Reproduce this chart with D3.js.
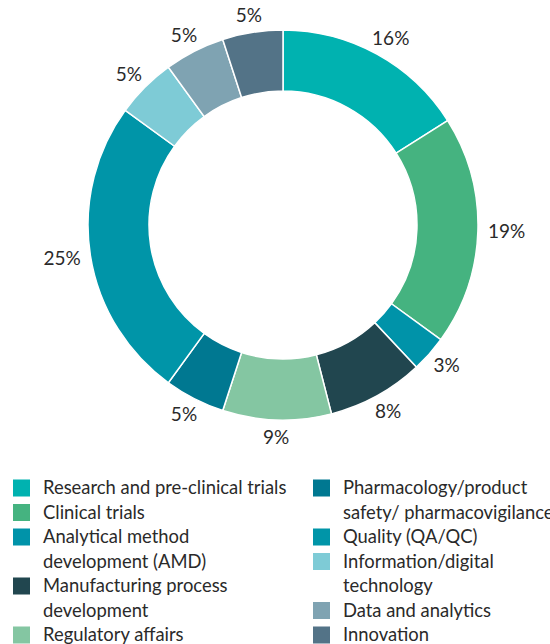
<!DOCTYPE html>
<html>
<head>
<meta charset="utf-8">
<script src="https://cdn.jsdelivr.net/npm/d3@7"></script>
<style>
  body { margin: 0; background: #fff; }
  svg { display: block; }
  text { font-family: Lato, "Noto Sans", sans-serif; fill: #2a2a2a; }
</style>
</head>
<body>
<div id="chart"></div>
<script>
// Chart data
var categories = [
  "Research and pre-clinical trials",
  "Clinical trials",
  "Analytical method development (AMD)",
  "Manufacturing process development",
  "Regulatory affairs",
  "Pharmacology/product safety/ pharmacovigilance",
  "Quality (QA/QC)",
  "Information/digital technology",
  "Data and analytics",
  "Innovation"
];
var shares = [16, 19, 3, 8, 9, 5, 25, 5, 5, 5];

// legend text as it wraps in the picture
var legendLines = [
  ["Research and pre-clinical trials"],
  ["Clinical trials"],
  ["Analytical method", "development (AMD)"],
  ["Manufacturing process", "development"],
  ["Regulatory affairs"],
  ["Pharmacology/product", "safety/ pharmacovigilance"],
  ["Quality (QA/QC)"],
  ["Information/digital", "technology"],
  ["Data and analytics"],
  ["Innovation"]
];

var colors = ["#00b2b0", "#45b380", "#0093a9", "#21464f", "#84c6a2",
              "#007891", "#0095a8", "#7ecbd6", "#7fa3b2", "#537387"];

var svgWidth = 550;
var svgHeight = 644;

var cx = 283, cy = 225;
var outerR = 195, innerR = 134;
var labelGap = 10;

var svg = d3.select("#chart")
  .append("svg")
  .attr("width", svgWidth)
  .attr("height", svgHeight);

var color = d3.scaleOrdinal().domain(categories).range(colors);

var pie = d3.pie().sort(null).value(d => d.value);
var data = categories.map((c, i) => ({ name: c, value: shares[i] }));
var arcs = pie(data);

var arc = d3.arc().innerRadius(innerR).outerRadius(outerR);

var donut = svg.append("g")
  .attr("transform", `translate(${cx}, ${cy})`);

donut.selectAll("path")
  .data(arcs)
  .enter()
  .append("path")
  .attr("d", arc)
  .attr("fill", d => color(d.data.name))
  .attr("stroke", "#fff")
  .attr("stroke-width", 1.5);

// percentage labels just outside the ring; the label box is pushed
// outward so its nearest edge sits labelGap px off the ring
var pctLabels = donut.selectAll("text.pct")
  .data(arcs)
  .enter()
  .append("text")
  .attr("class", "pct")
  .attr("text-anchor", "middle")
  .attr("dy", "0.35em")
  .attr("font-size", 19)
  .text(d => d.data.value + "%");

pctLabels.each(function(d) {
  var a = (d.startAngle + d.endAngle) / 2;
  var sx = Math.sin(a), sy = -Math.cos(a);
  var w = this.getComputedTextLength();
  var h = 15;
  var r = outerR + labelGap;
  d3.select(this)
    .attr("x", r * sx + (w / 2) * sx)
    .attr("y", r * sy + (h / 2) * sy);
});

// Legend, two columns
var rowH = 24.5;
var legendTop = 488;
var columns = [[0, 1, 2, 3, 4], [5, 6, 7, 8, 9]];
var colX = [13, 313];

columns.forEach(function(col, ci) {
  var y = legendTop;
  col.forEach(function(i) {
    var g = svg.append("g").attr("transform", `translate(${colX[ci]}, ${y})`);
    g.append("rect")
      .attr("x", 0)
      .attr("y", -8.5)
      .attr("width", 17)
      .attr("height", 17)
      .attr("fill", colors[i]);
    legendLines[i].forEach(function(line, li) {
      g.append("text")
        .attr("x", 30)
        .attr("y", li * rowH)
        .attr("dy", "0.35em")
        .attr("font-size", 18.4)
        .text(line);
    });
    y += legendLines[i].length * rowH;
  });
});
</script>
</body>
</html>
